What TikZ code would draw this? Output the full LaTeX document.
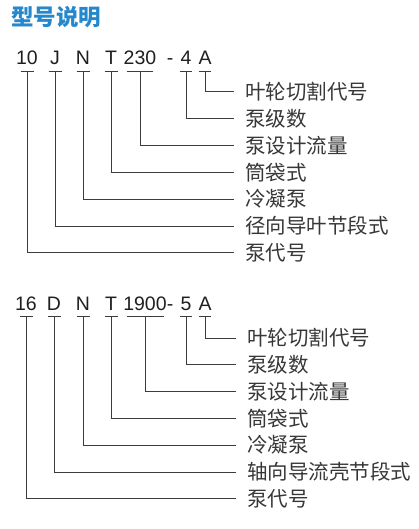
\documentclass[tikz,border=0pt]{standalone}
\usepackage{fontspec}
\setmainfont{Liberation Sans}
\newfontfamily\cjk{Noto Sans CJK SC}
\definecolor{titleblue}{RGB}{38,136,204}
\definecolor{linegray}{RGB}{60,60,60}
\definecolor{labgray}{RGB}{55,55,55}

\begin{document}
\begin{tikzpicture}[x=1pt,y=-1pt,
  code/.style={anchor=base,inner sep=0pt,font=\fontsize{19.5}{19.5}\selectfont,text=black!88},
  lab/.style={anchor=west,inner xsep=11pt,inner ysep=0pt,font=\cjk\fontsize{20.5}{20.5}\selectfont,text=labgray},
  bar/.style={line width=1pt,draw=linegray}]
\useasboundingbox (0,0) rectangle (419,529);
\node[anchor=west,inner sep=0pt,font=\cjk\bfseries\fontsize{22.5}{22.5}\selectfont,text=titleblue] (title) at (11,17) {型号说明};

% 10 J N T230-4A
\node[code] (a1) at (27,65) {10};
\node[code] (a2) at (55,65) {J};
\node[code] (a3) at (83,65) {N};
\node[code] (a4) at (111,65) {T};
\node[code] (a5) at (140,65) {230};
\node[code] (a6) at (170,65) {-};
\node[code] (a7) at (186,65) {4};
\node[code] (a8) at (205,65) {A};
\node[lab] (la8) at (234,92) {叶轮切割代号};
\node[lab] (la7) at (234,118.8) {泵级数};
\node[lab] (la5) at (234,145.6) {泵设计流量};
\node[lab] (la4) at (234,172.4) {筒袋式};
\node[lab] (la3) at (234,199.2) {冷凝泵};
\node[lab] (la2) at (234,226) {径向导叶节段式};
\node[lab] (la1) at (234,252.8) {泵代号};
\draw[bar] ([xshift=-6.5pt,yshift=-6.5pt]a1.base) -- ([xshift=6.5pt,yshift=-6.5pt]a1.base);
\draw[bar] ([xshift=-6.5pt,yshift=-6.5pt]a2.base) -- ([xshift=6.5pt,yshift=-6.5pt]a2.base);
\draw[bar] ([xshift=-6.5pt,yshift=-6.5pt]a3.base) -- ([xshift=6.5pt,yshift=-6.5pt]a3.base);
\draw[bar] ([xshift=-6.5pt,yshift=-6.5pt]a4.base) -- ([xshift=6.5pt,yshift=-6.5pt]a4.base);
\draw[bar] ([xshift=-13pt,yshift=-6.5pt]a5.base) -- ([xshift=13pt,yshift=-6.5pt]a5.base);
\draw[bar] ([xshift=-6pt,yshift=-6.5pt]a7.base) -- ([xshift=6pt,yshift=-6.5pt]a7.base);
\draw[bar] ([xshift=-6pt,yshift=-6.5pt]a8.base) -- ([xshift=6pt,yshift=-6.5pt]a8.base);
\draw[bar] ([yshift=-6.5pt]a1.base) |- (la1.west);
\draw[bar] ([yshift=-6.5pt]a2.base) |- (la2.west);
\draw[bar] ([yshift=-6.5pt]a3.base) |- (la3.west);
\draw[bar] ([yshift=-6.5pt]a4.base) |- (la4.west);
\draw[bar] ([yshift=-6.5pt]a5.base) |- (la5.west);
\draw[bar] ([yshift=-6.5pt]a7.base) |- (la7.west);
\draw[bar] ([yshift=-6.5pt]a8.base) |- (la8.west);

% 16 D N T1900-5A
\node[code] (b1) at (26,310) {16};
\node[code] (b2) at (54,310) {D};
\node[code] (b3) at (83,310) {N};
\node[code] (b4) at (111,310) {T};
\node[code] (b5) at (145,310) {1900};
\node[code] (b6) at (170,310) {-};
\node[code] (b7) at (186,310) {5};
\node[code] (b8) at (205,310) {A};
\node[lab] (lb8) at (236,338) {叶轮切割代号};
\node[lab] (lb7) at (236,364.8) {泵级数};
\node[lab] (lb5) at (236,391.6) {泵设计流量};
\node[lab] (lb4) at (236,418.4) {筒袋式};
\node[lab] (lb3) at (236,445.2) {冷凝泵};
\node[lab] (lb2) at (236,472) {轴向导流壳节段式};
\node[lab] (lb1) at (236,498.8) {泵代号};
\draw[bar] ([xshift=-6.5pt,yshift=-6.5pt]b1.base) -- ([xshift=6.5pt,yshift=-6.5pt]b1.base);
\draw[bar] ([xshift=-6.5pt,yshift=-6.5pt]b2.base) -- ([xshift=6.5pt,yshift=-6.5pt]b2.base);
\draw[bar] ([xshift=-6.5pt,yshift=-6.5pt]b3.base) -- ([xshift=6.5pt,yshift=-6.5pt]b3.base);
\draw[bar] ([xshift=-6.5pt,yshift=-6.5pt]b4.base) -- ([xshift=6.5pt,yshift=-6.5pt]b4.base);
\draw[bar] ([xshift=-18.5pt,yshift=-6.5pt]b5.base) -- ([xshift=18.5pt,yshift=-6.5pt]b5.base);
\draw[bar] ([xshift=-6pt,yshift=-6.5pt]b7.base) -- ([xshift=6pt,yshift=-6.5pt]b7.base);
\draw[bar] ([xshift=-6pt,yshift=-6.5pt]b8.base) -- ([xshift=6pt,yshift=-6.5pt]b8.base);
\draw[bar] ([yshift=-6.5pt]b1.base) |- (lb1.west);
\draw[bar] ([yshift=-6.5pt]b2.base) |- (lb2.west);
\draw[bar] ([yshift=-6.5pt]b3.base) |- (lb3.west);
\draw[bar] ([yshift=-6.5pt]b4.base) |- (lb4.west);
\draw[bar] ([yshift=-6.5pt]b5.base) |- (lb5.west);
\draw[bar] ([yshift=-6.5pt]b7.base) |- (lb7.west);
\draw[bar] ([yshift=-6.5pt]b8.base) |- (lb8.west);
\end{tikzpicture}
\end{document}
